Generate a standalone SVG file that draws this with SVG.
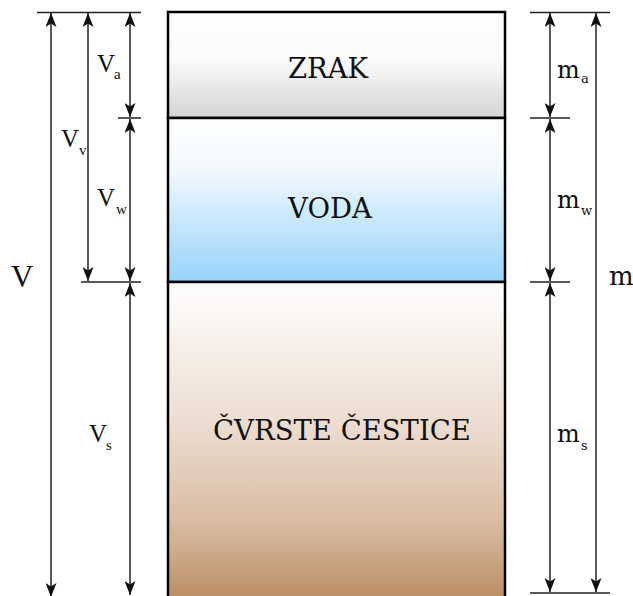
<svg xmlns="http://www.w3.org/2000/svg" width="633" height="596" viewBox="0 0 633 596">
<defs>
<linearGradient id="gAir" x1="0" y1="0" x2="0" y2="1"><stop offset="0" stop-color="#ffffff"/><stop offset="0.45" stop-color="#fbfbfb"/><stop offset="1" stop-color="#d3d3d3"/></linearGradient>
<linearGradient id="gWater" x1="0" y1="0" x2="0" y2="1"><stop offset="0" stop-color="#ffffff"/><stop offset="0.3" stop-color="#f3fafe"/><stop offset="1" stop-color="#96d3fb"/></linearGradient>
<linearGradient id="gSolid" x1="0" y1="0" x2="0" y2="1"><stop offset="0" stop-color="#ffffff"/><stop offset="0.45" stop-color="#ecdccf"/><stop offset="0.75" stop-color="#d9bca3"/><stop offset="1" stop-color="#ba8c62"/></linearGradient>
<marker id="ah" viewBox="0 0 14 11" refX="14" refY="5.5" markerWidth="14" markerHeight="11" markerUnits="userSpaceOnUse" orient="auto-start-reverse"><path d="M0,0 L14,5.5 L0,11 L3.5,5.5 z" fill="#111"/></marker>
<style>
.dim{stroke:#222;stroke-width:1.5;fill:none;marker-start:url(#ah);marker-end:url(#ah)}
.tick{stroke:#222;stroke-width:1.5}
.box{stroke:#000;stroke-width:2.5}
.lbl{font-family:"DejaVu Serif","Liberation Serif",serif;font-size:27.5px;fill:#111;text-anchor:middle}
.v{font-family:"Liberation Serif",serif;font-size:25px;fill:#111}
.vs{font-family:"Liberation Serif",serif;font-size:15px;fill:#111}
.m{font-family:"DejaVu Serif","Liberation Serif",serif;font-size:24px;fill:#111}
.ms{font-family:"DejaVu Serif","Liberation Serif",serif;font-size:13px;fill:#111}
</style>
</defs>
<g id="air"><rect x="168" y="12" width="337" height="106" fill="url(#gAir)" class="box"/><text class="lbl" x="328" y="78">ZRAK</text></g>
<g id="water"><rect x="168" y="118" width="337" height="164" fill="url(#gWater)" class="box"/><text class="lbl" x="330" y="218">VODA</text></g>
<g id="solid"><rect x="168" y="282" width="337" height="320" fill="url(#gSolid)" class="box"/><text class="lbl" x="342" y="440">ČVRSTE ČESTICE</text></g>
<g id="connectors">
<line class="tick" x1="37" y1="12.5" x2="141" y2="12.5"/>
<line class="tick" x1="118" y1="118" x2="141" y2="118"/>
<line class="tick" x1="81" y1="282" x2="141" y2="282"/>
<line class="tick" x1="530" y1="12.5" x2="610" y2="12.5"/>
<line class="tick" x1="530" y1="118" x2="570" y2="118"/>
<line class="tick" x1="530" y1="282" x2="570" y2="282"/>
<line class="tick" x1="530" y1="593" x2="610" y2="593"/>
<line class="dim" x1="51" y1="13" x2="51" y2="597"/>
<line class="dim" x1="88" y1="13" x2="88" y2="281"/>
<line class="dim" x1="130" y1="13" x2="130" y2="117"/>
<line class="dim" x1="130" y1="119" x2="130" y2="281"/>
<line class="dim" x1="130" y1="283" x2="130" y2="595"/>
<line class="dim" x1="550" y1="13" x2="550" y2="117"/>
<line class="dim" x1="550" y1="119" x2="550" y2="281"/>
<line class="dim" x1="550" y1="283" x2="550" y2="592"/>
<line class="dim" x1="596" y1="13" x2="596" y2="592"/>
</g>
<g id="labels">
<text class="v" x="11" y="287" style="font-size:31px">V</text>
<text class="v" x="97" y="72">V</text><text class="vs" x="114" y="79">a</text>
<text class="v" x="61" y="147">V</text><text class="vs" x="79" y="155">v</text>
<text class="v" x="97" y="206">V</text><text class="vs" x="116" y="214">w</text>
<text class="v" x="89" y="442">V</text><text class="vs" x="106" y="450">s</text>
<text class="m" x="557" y="78">m</text><text class="ms" x="581" y="83">a</text>
<text class="m" x="557" y="208">m</text><text class="ms" x="581" y="215">w</text>
<text class="m" x="557" y="442">m</text><text class="ms" x="581" y="450">s</text>
<text class="m" x="609" y="285" style="font-size:26px">m</text>
</g>
</svg>
